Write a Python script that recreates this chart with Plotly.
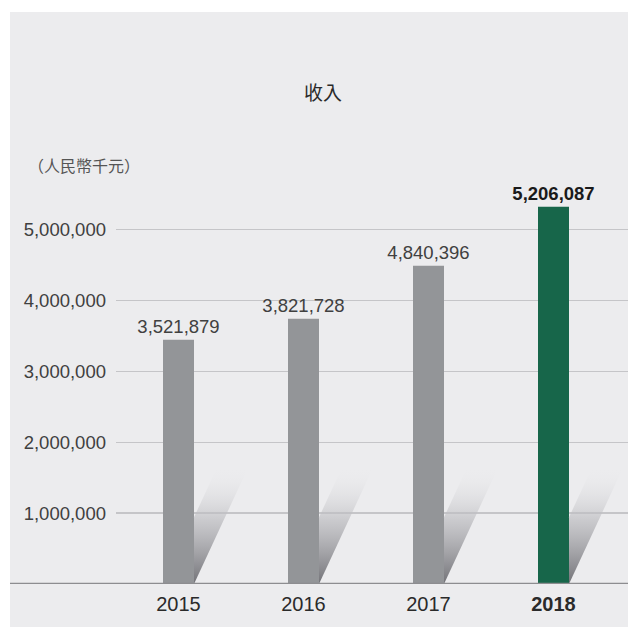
import plotly.graph_objects as go

# ---- data ----
years = ["2015", "2016", "2017", "2018"]
revenue_labels = [3521879, 3821728, 4840396, 5206087]      # printed values (RMB thousand)
bar_heights = [3446000, 3743000, 4490000, 5325000]          # bar heights as drawn in the picture
y_ticks = [1000000, 2000000, 3000000, 4000000, 5000000]
title_text = "收入"
unit_text = "（人民幣千元）"

# ---- layout geometry (pixels) ----
W, H = 628, 627
ML, MR, MT, MB = 116, 0, 173, 43
PW, PH = W - ML - MR, H - MT - MB
Y_MAX = 5.8e6
X_RANGE = [-0.5, -0.5 + PW / 125.0]

def px_x(px):
    return (px - ML) / PW

def px_y(py):
    return (H - MB - py) / PH

BG = "#ececee"
GRAY = "#939598"
GREEN = "#17664a"
BAR_W = 0.248
SH_DX = 0.432
SH_H = 1.64e6

fig = go.Figure()

# shadows (only the part visible to the right of each bar)
for i, h in enumerate(bar_heights):
    xl, xr = i - BAR_W / 2, i + BAR_W / 2
    y_cross = SH_H * BAR_W / SH_DX
    fig.add_trace(go.Scatter(
        x=[xr, xr + SH_DX, xl + SH_DX, xr, xr],
        y=[0, SH_H, SH_H, y_cross, 0],
        mode="lines", line=dict(width=0), fill="toself",
        fillgradient=dict(type="vertical", start=0, stop=SH_H,
                          colorscale=[[0, "rgba(110,110,115,0.97)"],
                                      [0.55, "rgba(184,184,188,0.65)"],
                                      [1, "rgba(236,236,238,0)"]]),
        hoverinfo="skip", showlegend=False))

colors = [GRAY, GRAY, GRAY, GREEN]
texts = []
for i, v in enumerate(revenue_labels):
    s = f"{v:,}"
    texts.append(f"<b>{s}</b>" if i == len(revenue_labels) - 1 else s)

fig.add_trace(go.Bar(
    x=list(range(len(years))), y=bar_heights, width=BAR_W,
    marker=dict(color=colors, line=dict(width=0)),
    text=texts, textposition="outside", constraintext="none", cliponaxis=False,
    textfont=dict(family="Liberation Sans, Arial, sans-serif", size=18.5,
                  color=["#404040", "#404040", "#404040", "#1a1a1a"]),
    hoverinfo="skip", showlegend=False))

ticktext_x = [f"<b>{y}</b>" if i == len(years) - 1 else y for i, y in enumerate(years)]

fig.update_layout(
    width=W, height=H,
    margin=dict(l=ML, r=MR, t=MT, b=MB, pad=0),
    paper_bgcolor=BG, plot_bgcolor=BG,
    showlegend=False,
    xaxis=dict(range=X_RANGE, tickvals=list(range(len(years))), ticktext=ticktext_x,
               showgrid=False, zeroline=False, showline=False, ticks="",
               tickfont=dict(family="Liberation Sans, Arial, sans-serif", size=20, color="#2a2a2a"),
               ticklabelstandoff=6, fixedrange=True),
    yaxis=dict(range=[0, Y_MAX], tickvals=y_ticks, ticktext=[f"{t:,}" for t in y_ticks],
               showgrid=True, gridcolor="#c5c5c8", gridwidth=1.5,
               zeroline=False, showline=False, ticks="",
               tickfont=dict(family="Liberation Sans, Arial, sans-serif", size=18.5, color="#404040"),
               ticklabelstandoff=9, fixedrange=True),
    shapes=[
        # baseline
        dict(type="line", xref="paper", yref="y", x0=px_x(10), x1=px_x(W), y0=0, y1=0,
             line=dict(color="#8d8d90", width=2.5), layer="above"),
        # white frame strips
        dict(type="rect", xref="paper", yref="paper", x0=px_x(0), x1=px_x(10),
             y0=px_y(H), y1=px_y(0), fillcolor="white", line=dict(width=0), layer="above"),
        dict(type="rect", xref="paper", yref="paper", x0=px_x(0), x1=px_x(W),
             y0=px_y(12), y1=px_y(0), fillcolor="white", line=dict(width=0), layer="above"),
    ],
    annotations=[
        dict(text=title_text, xref="paper", yref="paper", x=px_x(323), y=px_y(91),
             xanchor="center", yanchor="middle", showarrow=False,
             font=dict(family="Noto Sans CJK TC", size=19, color="#2a2a2a")),
        dict(text=unit_text, xref="paper", yref="paper", x=px_x(26), y=px_y(165),
             xanchor="left", yanchor="middle", showarrow=False,
             font=dict(family="Noto Sans CJK TC", size=16, color="#555555")),
    ],
)

fig.write_html("out.html", config={"displayModeBar": False, "staticPlot": True},
               post_script="document.body.style.margin='0';document.body.style.overflow='hidden';")
